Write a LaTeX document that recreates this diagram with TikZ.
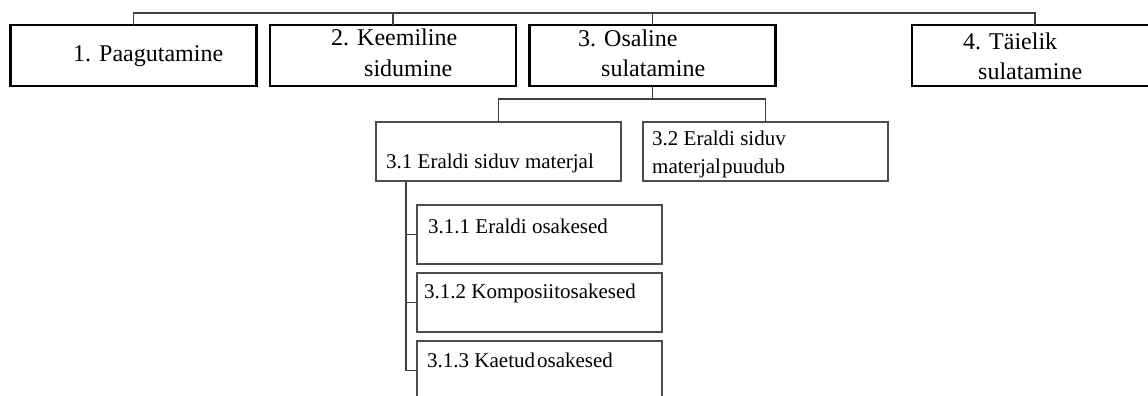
\documentclass[tikz,border=0pt]{standalone}
\usepackage{fontspec}
\setmainfont{Liberation Serif}
\begin{document}
\begin{tikzpicture}[x=1pt,y=-1pt,
  topbox/.style={draw=black,line width=2.6pt,minimum width=246pt,minimum height=61pt,inner sep=0pt,outer sep=0pt},
  subbox/.style={draw=black!70,line width=1.8pt,minimum width=245pt,minimum height=59pt,inner sep=0pt,outer sep=0pt},
  conn/.style={draw=black!75,line width=1.5pt},
  bigtxt/.style={anchor=base west,inner sep=0pt,font=\fontsize{24}{28}\selectfont},
  smalltxt/.style={anchor=base west,inner sep=0pt,font=\fontsize{21}{24}\selectfont}]
\useasboundingbox[fill=white] (0,0) rectangle (1148,396);
% top level boxes
\node[topbox] (b1) at (133.5,55.5) {};
\node[topbox] (b2) at (393,55.5) {};
\node[topbox] (b3) at (652.5,55.5) {};
\node[topbox] (b4) at (1035,55.5) {};
% second level
\node[subbox] (s31) at (498.5,151.5) {};
\node[subbox] (s32) at (765.5,151.5) {};
% third level
\node[subbox] (s311) at (539.5,234.5) {};
\node[subbox] (s312) at (539.5,302.5) {};
\node[subbox] (s313) at (539.5,370.5) {};
% coordinates for connector rails
\coordinate (rail1) at (0,13);
\coordinate (rail2) at (0,99);
\coordinate (rail3) at (406,0);
% connectors
\draw[conn] (b1.north) |- (b4.north |- rail1) -- (b4.north);
\draw[conn] (b2.north) -- (b2.north |- rail1);
\draw[conn] (b3.north) -- (b3.north |- rail1);
\draw[conn] (b3.south) -- (b3.south |- rail2);
\draw[conn] (s31.north) |- (s32.north |- rail2) -- (s32.north);
\draw[conn] (s31.south -| rail3) |- (s313.west);
\draw[conn] (s311.west) -- (s311.west -| rail3);
\draw[conn] (s312.west) -- (s312.west -| rail3);
% texts
\node[bigtxt] (t1) at (73,62) {1. Paagutamine};
\node[bigtxt] (t2a) at (331,46) {2. Keemiline};
\node[bigtxt] (t2b) at (364,76) {sidumine};
\node[bigtxt] (t3a) at (578,47) {3. Osaline};
\node[bigtxt] (t3b) at (601,77) {sulatamine};
\node[bigtxt] (t4a) at (963,49) {4. Täielik};
\node[bigtxt] (t4b) at (978,79) {sulatamine};
\node[smalltxt] (t31) at (386,168) {3.1 Eraldi siduv materjal};
\node[smalltxt] (t32a) at (652,145) {3.2 Eraldi siduv};
\node[smalltxt] (t32b) at (652,173) {materjal\hspace{1pt}puudub};
\node[smalltxt] (t311) at (428,233) {3.1.1 Eraldi osakesed};
\node[smalltxt] (t312) at (424,298) {3.1.2 Komposiitosakesed};
\node[smalltxt] (t313) at (427,367) {3.1.3 Kaetud\hspace{2pt}osakesed};
\end{tikzpicture}
\end{document}
